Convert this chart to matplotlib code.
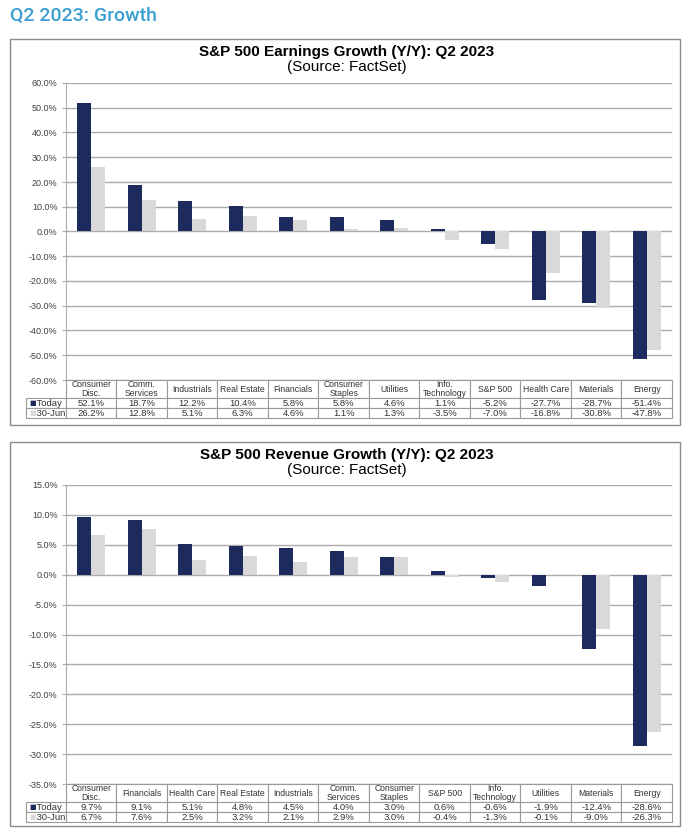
import matplotlib
matplotlib.use('Agg')
import matplotlib.pyplot as plt
from matplotlib.patches import Rectangle
import numpy as np

plt.rcParams['font.family'] = ['Liberation Sans', 'DejaVu Sans']

NAVY = '#1c2a5e'
GREY = '#d9d9d9'
GRID = '#ababab'

# earnings panel
earn_cats = ['Consumer\nDisc.', 'Comm.\nServices', 'Industrials', 'Real Estate', 'Financials',
             'Consumer\nStaples', 'Utilities', 'Info.\nTechnology', 'S&P 500', 'Health Care',
             'Materials', 'Energy']
earn_today = [52.1, 18.7, 12.2, 10.4, 5.8, 5.8, 4.6, 1.1, -5.2, -27.7, -28.7, -51.4]
earn_jun30 = [26.2, 12.8, 5.1, 6.3, 4.6, 1.1, 1.3, -3.5, -7.0, -16.8, -30.8, -47.8]

# revenue panel
rev_cats = ['Consumer\nDisc.', 'Financials', 'Health Care', 'Real Estate', 'Industrials',
            'Comm.\nServices', 'Consumer\nStaples', 'S&P 500', 'Info.\nTechnology', 'Utilities',
            'Materials', 'Energy']
rev_today = [9.7, 9.1, 5.1, 4.8, 4.5, 4.0, 3.0, 0.6, -0.6, -1.9, -12.4, -28.6]
rev_jun30 = [6.7, 7.6, 2.5, 3.2, 2.1, 2.9, 3.0, -0.4, -1.3, -0.1, -9.0, -26.3]

row_names = ['Today', '30-Jun']

W, H = 693, 838
fig = plt.figure(figsize=(W / 100, H / 100), dpi=100)


def fx(px):
    return px / W


def fy(py):
    return 1 - py / H


fig.text(fx(10), fy(16), 'Q2 2023: Growth', family=['Roboto', 'DejaVu Sans'], fontsize=14,
         color='#3a9fd0', weight='medium', va='center', ha='left')


def panel(top, bottom, title, cats, today, jun30, ymin, ymax, step, ax_top, ax_bot):
    fig.patches.append(Rectangle((fx(10), fy(bottom)), fx(680) - fx(10), fy(top) - fy(bottom),
                                 transform=fig.transFigure, fill=False, edgecolor='#8c8c8c', lw=1))
    fig.text(0.5, fy(top + 13), title, ha='center', va='center', fontsize=11, weight='bold')
    fig.text(0.5, fy(top + 28), '(Source: FactSet)', ha='center', va='center', fontsize=11)

    ax = fig.add_axes([fx(66), fy(ax_bot), fx(672) - fx(66), fy(ax_top) - fy(ax_bot)])
    x = np.arange(len(cats))
    ax.bar(x - 0.14, today, width=0.28, color=NAVY, zorder=3)
    ax.bar(x + 0.14, jun30, width=0.28, color=GREY, zorder=3)
    ax.set_xlim(-0.5, len(cats) - 0.5)
    ax.set_ylim(ymin, ymax)
    ticks = np.arange(ymin, ymax + step / 2, step)
    ax.set_yticks(ticks)
    ax.set_yticklabels(['%.1f%%' % t for t in ticks], fontsize=6.5, color='#404040')
    ax.yaxis.grid(True, color=GRID, lw=1, zorder=0)
    ax.set_xticks([])
    for s in ['top', 'right', 'bottom']:
        ax.spines[s].set_visible(False)
    ax.spines['left'].set_color(GRID)
    ax.tick_params(axis='y', length=3, color=GRID, pad=3)

    rows = [['    ' + row_names[0]] + ['%.1f%%' % v for v in today],
            ['    ' + row_names[1]] + ['%.1f%%' % v for v in jun30]]
    tbl_h = 38
    axh = ax_bot - ax_top
    lab_w = 40 / 606
    tbl = ax.table(cellText=rows, colLabels=[''] + cats, cellLoc='center',
                   bbox=[-lab_w, -tbl_h / axh, 1 + lab_w, tbl_h / axh])
    tbl.auto_set_font_size(False)
    for (r, c), cell in tbl.get_celld().items():
        cell.set_edgecolor('#9a9a9a')
        cell.set_linewidth(0.8)
        cell.get_text().set_fontsize(6.2 if r == 0 else 6.8)
        cell.get_text().set_color('#333333')
        cell.get_text().set_linespacing(1.0)
        cell.set_width(lab_w if c == 0 else 1 / 12)
        cell.set_height(18 if r == 0 else 10)
        if c == 0:
            cell.get_text().set_ha('left')
            cell.PAD = 0.01
            if r == 0:
                cell.set_visible(False)
    # legend squares in row labels
    ax.text(-lab_w + 0.005, -(18 + 5) / axh, '■', transform=ax.transAxes, fontsize=5,
            color=NAVY, va='center', ha='left', family='DejaVu Sans')
    ax.text(-lab_w + 0.005, -(28 + 5) / axh, '■', transform=ax.transAxes, fontsize=5,
            color=GREY, va='center', ha='left', family='DejaVu Sans')
    return ax


panel(39, 425, 'S&P 500 Earnings Growth (Y/Y): Q2 2023', earn_cats, earn_today, earn_jun30,
      -60, 60, 10, 83, 380)
panel(442, 826, 'S&P 500 Revenue Growth (Y/Y): Q2 2023', rev_cats, rev_today, rev_jun30,
      -35, 15, 5, 485, 784)

fig.savefig('out.png', dpi=100)
